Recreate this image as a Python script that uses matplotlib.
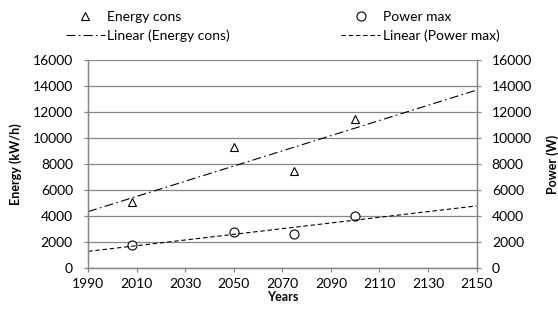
import matplotlib.pyplot as plt
import numpy as np

plt.rcParams['font.family'] = ['Lato', 'DejaVu Sans']

# data
years = [2008, 2050, 2075, 2100]
energy_cons = [5100, 9350, 7450, 11450]
power_max = [1750, 2750, 2650, 4000]
x_ticks = list(range(1990, 2151, 20))
y_ticks = list(range(0, 16001, 2000))

# linear trendlines (like Excel), drawn over the whole x range
trend_x = np.array([1990, 2150])
e_fit = np.polyfit(years, energy_cons, 1)
p_fit = np.polyfit(years, power_max, 1)

grey = '#868686'

fig = plt.figure(figsize=(5.58, 3.13), dpi=100)
ax = fig.add_axes([0.158, 0.143, 0.696, 0.665])
ax2 = ax.twinx()

h1, = ax.plot(years, energy_cons, linestyle='none', marker='^', ms=6,
              mfc='white', mec='black', mew=0.8, label='Energy cons')
h2, = ax.plot(trend_x, np.polyval(e_fit, trend_x), color='black', lw=0.8,
              linestyle=(0, (8, 3, 1.5, 3)), label='Linear (Energy cons)')
h3, = ax2.plot(years, power_max, linestyle='none', marker='o', ms=6.5,
               mfc='white', mec='black', mew=0.8, label='Power max')
h4, = ax2.plot(trend_x, np.polyval(p_fit, trend_x), color='black', lw=0.8,
               linestyle=(0, (4, 2.5)), label='Linear (Power max)')

for a in (ax, ax2):
    a.set_xlim(1990, 2150)
    a.set_ylim(0, 16000)
    a.set_yticks(y_ticks)
    for s in a.spines.values():
        s.set_color(grey)
        s.set_linewidth(0.9)
    a.spines['top'].set_visible(False)
    a.tick_params(colors=grey, labelcolor='black', labelsize=10, length=3, width=0.9)

ax.set_xticks(x_ticks)
ax.tick_params(axis='y', pad=8)
ax.tick_params(axis='x', pad=4)
ax2.tick_params(axis='y', pad=8)
ax.yaxis.grid(True, color=grey, lw=0.9)
ax.set_axisbelow(True)

ax.set_xlabel('Years', fontsize=9, fontweight='bold', labelpad=1)
ax.set_ylabel('Energy (kW/h)', fontsize=9, fontweight='bold', labelpad=8)
ax2.set_ylabel('Power (W)', fontsize=9, fontweight='bold', labelpad=10)

fig.legend(handles=[h1, h2, h3, h4], ncol=2, loc='upper left',
           bbox_to_anchor=(0.098, 1.0), frameon=False, fontsize=10,
           handlelength=2.8, handletextpad=0.2, columnspacing=8.0,
           labelspacing=0.45, borderpad=0.3)

fig.savefig('out.png', dpi=100)
